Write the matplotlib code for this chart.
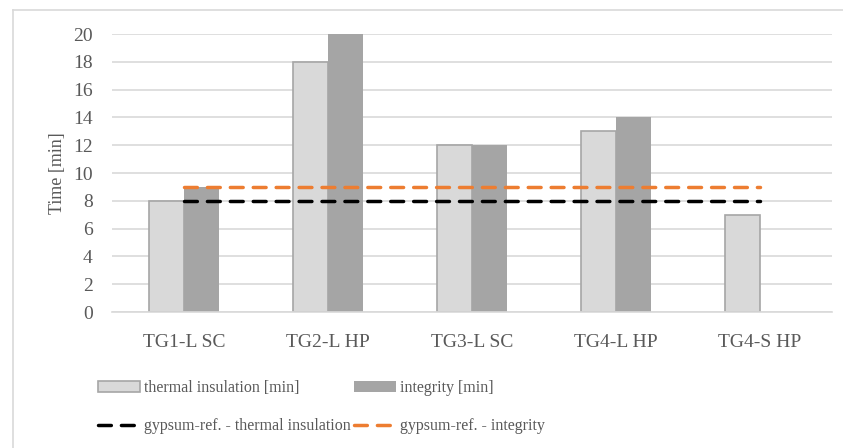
import numpy as np
import matplotlib.pyplot as plt
from matplotlib.lines import Line2D

categories = ["TG1-L SC", "TG2-L HP", "TG3-L SC", "TG4-L HP", "TG4-S HP"]
thermal_insulation = [8, 18, 12, 13, 7]
integrity = [9, 20, 12, 14, 0]
gypsum_ref_thermal = [8, 8, 8, 8, 8]
gypsum_ref_integrity = [9, 9, 9, 9, 9]
y_ticks = list(range(0, 21, 2))

text_color = "#595959"
plt.rcParams["font.family"] = ["Liberation Serif", "DejaVu Serif"]

W, H = 843, 448
fig = plt.figure(figsize=(W / 100, H / 100), dpi=100)
ax = fig.add_axes([112 / W, (H - 312) / H, 720 / W, 278 / H])

x = np.arange(len(categories))
bw = 0.24
ax.bar(x - bw / 2, thermal_insulation, bw, color="#D9D9D9", edgecolor="#A6A6A6",
       linewidth=1.2, label="thermal insulation [min]", zorder=2)
ax.bar(x + bw / 2, integrity, bw, color="#A5A5A5", edgecolor="none",
       label="integrity [min]", zorder=2)
ax.plot(x, gypsum_ref_thermal, color="black", linewidth=2.5, dashes=(3.7, 2.9),
        dash_capstyle="round", label="gypsum-ref. - thermal insulation", zorder=3)
ax.plot(x, gypsum_ref_integrity, color="#ED7D31", linewidth=2.5, dashes=(3.7, 2.9),
        dash_capstyle="round", label="gypsum-ref. - integrity", zorder=3)

ax.set_xlim(-0.5, len(categories) - 0.5)
ax.set_ylim(0, 20)
ax.set_yticks(y_ticks)
ax.set_xticks(x)
ax.set_xticklabels(categories)
ax.grid(axis="y", color="#D9D9D9", linewidth=1.2, zorder=0)
for s in ["top", "right", "left"]:
    ax.spines[s].set_visible(False)
ax.spines["bottom"].set_color("#D9D9D9")
ax.spines["bottom"].set_linewidth(1.2)
ax.tick_params(length=0, labelsize=14, colors=text_color)
ax.tick_params(axis="y", pad=14)
ax.tick_params(axis="x", pad=16)
ax.set_ylabel("Time [min]", fontsize=13, color=text_color, labelpad=5)

# legend, two rows like the original
h, l = ax.get_legend_handles_labels()
by_label = dict(zip(l, h))
order = ["thermal insulation [min]", "gypsum-ref. - thermal insulation",
         "integrity [min]", "gypsum-ref. - integrity"]
leg = fig.legend([by_label[k] for k in order], order, ncol=2,
                 loc="upper left", bbox_to_anchor=(90 / W, 1 - 372 / H),
                 frameon=False, fontsize=11.5, labelcolor=text_color,
                 handlelength=2.6, handletextpad=0.25, columnspacing=0.25,
                 labelspacing=1.4, borderpad=0)

# outer frame (only top and left edges visible)
fig.add_artist(Line2D([13 / W, 1], [1 - 10 / H, 1 - 10 / H], color="#D9D9D9", linewidth=1.2))
fig.add_artist(Line2D([13 / W, 13 / W], [0, 1 - 10 / H], color="#D9D9D9", linewidth=1.2))

fig.savefig("out.png", dpi=100)
